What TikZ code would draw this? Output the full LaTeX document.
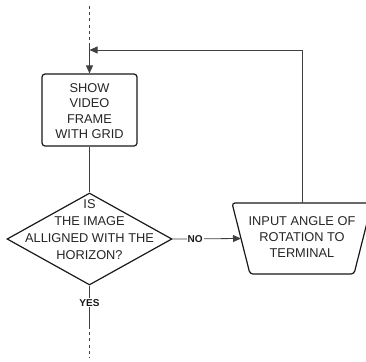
\documentclass[tikz,border=0pt]{standalone}
\usepackage{fontspec}
\setmainfont{Liberation Sans}
\usetikzlibrary{shapes.geometric,arrows.meta}
\begin{document}
\begin{tikzpicture}[x=1pt,y=-1pt,
  shapeline/.style={draw=black!90,line width=1.2pt,fill=white},
  body/.style={text=black!85,align=center,font=\fontsize{12.8}{15.6}\selectfont},
  flow/.style={draw=black!75,line width=0.8pt},
  tip/.style={-{Triangle[length=8pt,width=7pt]}},
  cut/.style={draw=black!75,line width=0.8pt,dash pattern=on 3pt off 3.2pt},
  answer/.style={fill=white,inner sep=1pt,text=black!90,font=\fontsize{10}{11}\bfseries\selectfont}]
\useasboundingbox (0,0) rectangle (366,361);
\clip (0,0) rectangle (366,361);

% process box
\node[shapeline,rounded corners=3pt,rectangle,minimum width=95pt,minimum height=72pt,inner sep=0pt]
  (show) at (89.5,110) {};
\node[body] (showtxt) at (89.5,111) {SHOW\\VIDEO\\FRAME\\WITH GRID};

% decision
\node[shapeline,diamond,minimum width=165pt,minimum height=92pt,inner sep=0pt]
  (dec) at (89.5,239) {};
\node[body,font=\fontsize{12.8}{16.8}\selectfont] (dectxt) at (89.5,229.5) {IS\\THE IMAGE\\ALLIGNED WITH THE\\HORIZON?};

% manual input: trapezoid, wide side on top
\coordinate (inpTL) at (232,203);
\coordinate (inpTR) at (372,203);
\coordinate (inpBR) at (354,274);
\coordinate (inpBL) at (250,274);
\coordinate (inpT) at (302,203);
\coordinate (inpL) at (241,238.5);
\draw[shapeline,rounded corners=3pt] (inpTL) -- (inpTR) -- (inpBR) -- (inpBL) -- cycle;
\node[body] (inp) at (302,237) {INPUT ANGLE OF\\ROTATION TO\\TERMINAL};

% connectors
\coordinate (top) at (89.5,6);
\coordinate (topend) at (89.5,46);
\coordinate (join) at (89.5,50);
\coordinate (low) at (89.5,326);
\coordinate (bottom) at (89.5,358);

\draw[cut] (top) -- (topend);
\draw[flow] (topend) -- (join);
\draw[flow,tip] (join) -- (show.north);
\draw[flow] (show.south) -- (dec.north);
\draw[flow,tip] (dec.east) -- (inpL)
  node[answer,pos=0.33] (no) {NO};
\draw[flow,tip] (inpT) |- (join);
\draw[flow] (dec.south) -- (low)
  node[answer,pos=0.42] (yes) {YES};
\draw[cut] (low) -- (bottom);
\end{tikzpicture}
\end{document}
